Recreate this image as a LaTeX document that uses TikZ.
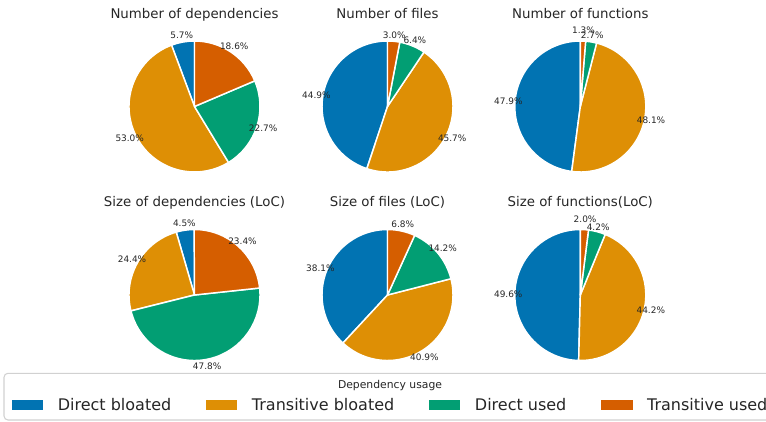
\documentclass[tikz,border=0pt]{standalone}
\usepackage{fontspec}
\setmainfont{DejaVu Sans}
\usetikzlibrary{positioning,calc}
\definecolor{cDirBloat}{HTML}{0173B2}
\definecolor{cTrBloat}{HTML}{DE8F05}
\definecolor{cDirUsed}{HTML}{029E73}
\definecolor{cTrUsed}{HTML}{D55E00}
\definecolor{cInk}{HTML}{262626}
\tikzset{
  wedge/.style={draw=white, line width=1.1pt, line join=round},
  ttl/.style={font=\fontsize{10}{12}\selectfont, text=cInk, inner sep=0pt, anchor=base},
  pct/.style={font=\fontsize{6.7}{8}\selectfont, text=cInk, inner sep=0pt},
  legbox/.style={draw=black!18, fill=white, rounded corners=3pt, line width=0.8pt},
  legttl/.style={font=\fontsize{8.1}{10}\selectfont, text=cInk, inner sep=0pt, anchor=base},
  legpatch/.style={minimum width=23.7pt, minimum height=7.5pt, inner sep=0pt, draw=none},
  leglbl/.style={font=\fontsize{12}{14}\selectfont, text=cInk, inner sep=0pt},
}
\newcommand{\pierad}{65.5}
\newcommand{\usagepie}[4]{%
  \coordinate (#1) at #2;
  \gdef\angA{90}
  \foreach \val/\col/\dist [count=\i] in {#4} {
    \pgfmathsetmacro\angB{\angA+3.6*\val}
    \pgfmathsetmacro\angM{(\angA+\angB)/2}
    \fill[wedge, fill=\col] (#1) -- ++(\angA:\pierad)
      arc[start angle=\angA, end angle=\angB, radius=\pierad] -- cycle;
    \node[pct] (#1-\i) at ($(#1)+(\angM:\dist*\pierad)$) {\val\%};
    \xdef\angA{\angB}
  }
  \node[ttl] (#1-ttl) at ($(#1)+(0,88.2)$) {#3};
}

\begin{document}
\begin{tikzpicture}[x=0.75pt, y=0.75pt]
  \useasboundingbox (0,0) rectangle (766,421);
  \usagepie{ndep}{(194.5,314.5)}{Number of dependencies}
    {5.7/cDirBloat/1.1, 53.0/cTrBloat/1.1, 22.7/cDirUsed/1.1, 18.6/cTrUsed/1.1}
  \usagepie{nfile}{(387.5,314.5)}{Number of files}
    {44.9/cDirBloat/1.1, 45.7/cTrBloat/1.1, 6.4/cDirUsed/1.1, 3.0/cTrUsed/1.1}
  \usagepie{nfun}{(580.3,314.5)}{Number of functions}
    {47.9/cDirBloat/1.1, 48.1/cTrBloat/1.1, 2.7/cDirUsed/1.1, 1.3/cTrUsed/1.17}
  \usagepie{sdep}{(194.5,126)}{Size of dependencies (LoC)}
    {4.5/cDirBloat/1.1, 24.4/cTrBloat/1.1, 47.8/cDirUsed/1.1, 23.4/cTrUsed/1.1}
  \usagepie{sfile}{(387.5,126)}{Size of files (LoC)}
    {38.1/cDirBloat/1.1, 40.9/cTrBloat/1.1, 14.2/cDirUsed/1.1, 6.8/cTrUsed/1.1}
  \usagepie{sfun}{(580.3,126)}{Size of functions(LoC)}
    {49.6/cDirBloat/1.1, 44.2/cTrBloat/1.1, 4.2/cDirUsed/1.07, 2.0/cTrUsed/1.16}

  \draw[legbox] (4,1) rectangle (800,47.7);
  \node[legttl] (legttl) at (390,33) {Dependency usage};
  \node[legpatch, fill=cDirBloat] (p1) at (27.5,16) {};
  \node[leglbl, right=10.5pt of p1] (l1) {Direct bloated};
  \node[legpatch, fill=cTrBloat, right=25.5pt of l1] (p2) {};
  \node[leglbl, right=10.5pt of p2] (l2) {Transitive bloated};
  \node[legpatch, fill=cDirUsed, right=25.5pt of l2] (p3) {};
  \node[leglbl, right=10.5pt of p3] (l3) {Direct used};
  \node[legpatch, fill=cTrUsed, right=25.5pt of l3] (p4) {};
  \node[leglbl, right=10.5pt of p4] (l4) {Transitive used};
\end{tikzpicture}
\end{document}
